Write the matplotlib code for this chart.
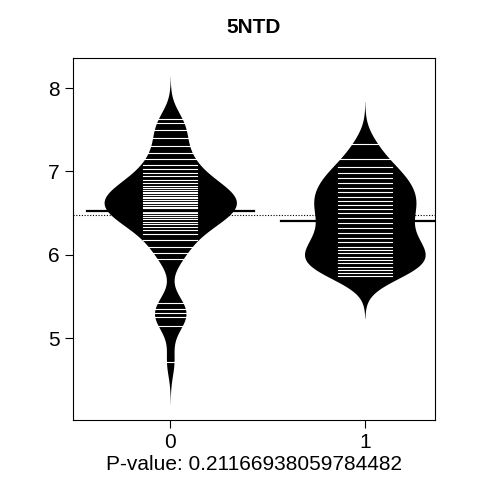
import numpy as np
import matplotlib.pyplot as plt

plt.rcParams['font.family'] = ['Liberation Sans', 'DejaVu Sans']

groups = ["0", "1"]
vals0 = [4.72, 5.15, 5.25, 5.3, 5.35, 5.42,
         5.95, 6.02, 6.1, 6.18, 6.25, 6.3, 6.33, 6.37,
         6.4, 6.43, 6.45, 6.48, 6.5, 6.52, 6.54, 6.56, 6.58, 6.6, 6.62,
         6.64, 6.66, 6.68, 6.7, 6.72, 6.74, 6.76, 6.78, 6.8, 6.83, 6.86,
         6.9, 6.94, 6.98, 7.03, 7.08, 7.15, 7.22, 7.3, 7.4, 7.5, 7.58, 7.63]
vals1 = [5.75, 5.78, 5.82, 5.86, 5.9, 5.94, 5.98, 6.02, 6.06, 6.1, 6.15,
         6.2, 6.26, 6.32, 6.38, 6.44, 6.5, 6.55, 6.6, 6.65, 6.7,
         6.75, 6.8, 6.86, 6.92, 6.98, 7.05, 7.15, 7.33]
pvalue = "0.21166938059784482"

bw = 0.17
half_widths = [0.34, 0.31]


def kde(v, grid):
    v = np.asarray(v)
    d = np.exp(-0.5 * ((grid[:, None] - v[None, :]) / bw) ** 2).sum(axis=1)
    return d / (len(v) * bw * np.sqrt(2 * np.pi))


fig, ax = plt.subplots(figsize=(4.8, 4.8), dpi=100)
fig.subplots_adjust(left=0.152, right=0.906, top=0.879, bottom=0.125)

data = [vals0, vals1]

overall = np.mean(vals0 + vals1)
ax.axhline(overall, color="black", lw=0.8, ls=(0, (1, 1.5)), zorder=1)

for i, v in enumerate(data):
    g = np.linspace(min(v) - 3 * bw, max(v) + 3 * bw, 400)
    d = kde(v, g)
    w = d / d.max() * half_widths[i]
    ax.fill_betweenx(g, i - w, i + w, color="black", lw=0, zorder=2)
    for y in v:
        ax.plot([i - 0.14, i + 0.14], [y, y], color="white", lw=0.8, zorder=3)
    m = np.mean(v)
    ax.plot([i - 0.43, i + 0.43], [m, m], color="black", lw=1.6, zorder=4)

ax.set_xlim(-0.5, 1.36)
ax.set_ylim(4.02, 8.36)
ax.set_xticks([0, 1])
ax.set_xticklabels(groups)
ax.set_yticks([5, 6, 7, 8])
ax.tick_params(labelsize=15, length=6, width=0.8)
ax.set_title("5NTD", fontsize=15, fontweight="bold", pad=18)
ax.set_xlabel("P-value: " + pvalue, fontsize=15, labelpad=2)
for s in ax.spines.values():
    s.set_linewidth(0.8)

fig.savefig("out.png", dpi=100)
